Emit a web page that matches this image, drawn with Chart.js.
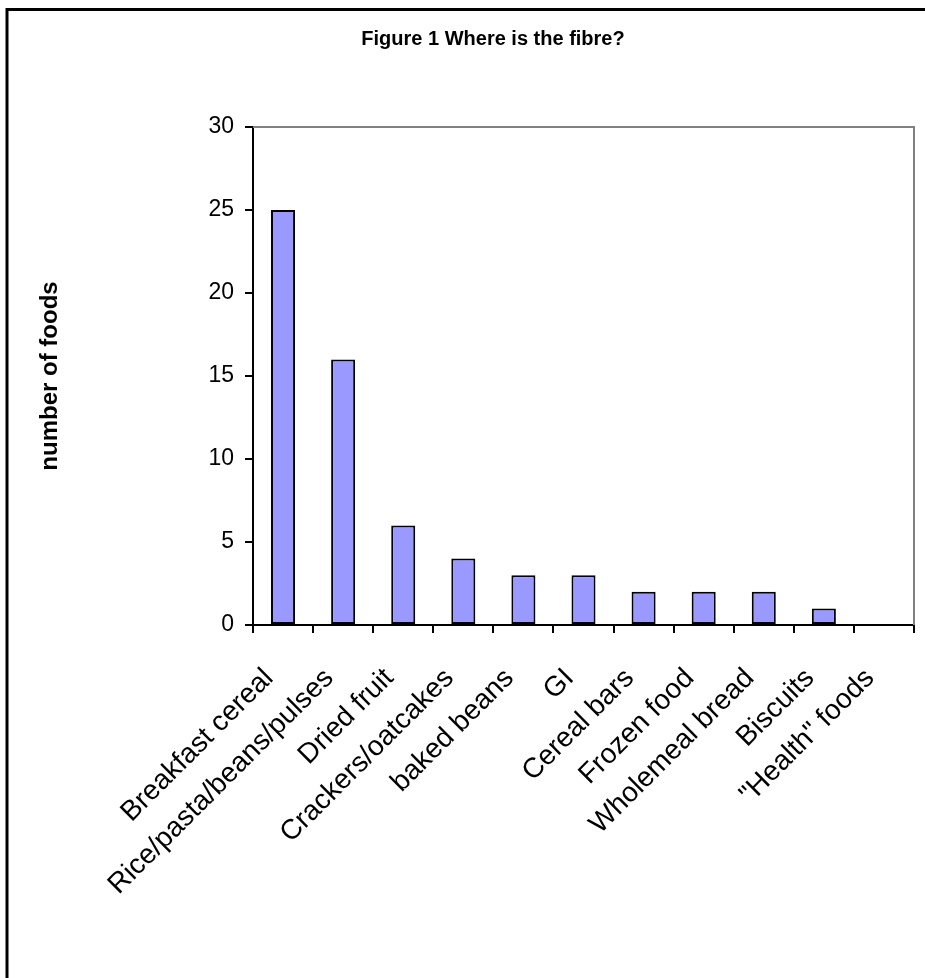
<!DOCTYPE html>
<html>
<head>
<meta charset="utf-8">
<title>Where is the fibre?</title>
<script src="https://cdn.jsdelivr.net/npm/chart.js@4/dist/chart.umd.min.js"></script>
<style>
  html, body { margin: 0; padding: 0; background: #fff; overflow: hidden; }
  #wrap { position: relative; width: 925px; height: 978px; }
</style>
</head>
<body>
<div id="wrap"><canvas id="chart" width="925" height="978"></canvas></div>
<script>
// Food groups named as sources of fibre
const categories = [
  'Breakfast cereal',
  'Rice/pasta/beans/pulses',
  'Dried fruit',
  'Crackers/oatcakes',
  'baked beans',
  'GI',
  'Cereal bars',
  'Frozen food',
  'Wholemeal bread',
  'Biscuits',
  '"Health" foods'
];
// Number of foods in each group
const foodCounts = [25, 16, 6, 4, 3, 3, 2, 2, 2, 1, 0];
// Value axis ticks
const yTicks = [0, 5, 10, 15, 20, 25, 30];

const chartTitle = 'Figure 1 Where is the fibre?';
const yAxisTitle = 'number of foods';
const FONT = "Arial, 'Liberation Sans', sans-serif";

// Outer frame, figure title and the grey top/right edge of the plot area
const decorations = {
  id: 'decorations',
  beforeDraw(chart) {
    const ctx = chart.ctx;
    ctx.save();
    ctx.fillStyle = '#ffffff';
    ctx.fillRect(0, 0, chart.width, chart.height);
    ctx.strokeStyle = '#000000';
    ctx.lineWidth = 3;
    ctx.strokeRect(7, 9.5, 2000, 2000);
    ctx.fillStyle = '#000000';
    ctx.font = 'bold 20px ' + FONT;
    ctx.textAlign = 'center';
    ctx.textBaseline = 'alphabetic';
    ctx.fillText(chartTitle, 493, 45);
    ctx.restore();
  },
  beforeDatasetsDraw(chart) {
    const { ctx, chartArea: a } = chart;
    ctx.save();
    ctx.strokeStyle = '#808080';
    ctx.lineWidth = 2;
    ctx.beginPath();
    ctx.moveTo(a.left, a.top);
    ctx.lineTo(a.right, a.top);
    ctx.lineTo(a.right, a.bottom);
    ctx.stroke();
    ctx.restore();
  }
};

new Chart(document.getElementById('chart'), {
  type: 'bar',
  data: {
    labels: categories,
    datasets: [{
      data: foodCounts,
      backgroundColor: '#9999FF',
      borderColor: '#000000',
      borderWidth: 2,
      borderSkipped: false,
      categoryPercentage: 1.0,
      barPercentage: 0.4
    }]
  },
  options: {
    responsive: false,
    animation: false,
    devicePixelRatio: 1,
    layout: { padding: { top: 127, right: 11, left: 0, bottom: 0 } },
    plugins: {
      legend: { display: false },
      title: { display: false },
      tooltip: { enabled: false }
    },
    scales: {
      x: {
        grid: {
          offset: true,
          drawOnChartArea: false,
          drawTicks: true,
          tickLength: 8,
          color: '#000000',
          lineWidth: 2
        },
        border: { display: true, color: '#000000', width: 2 },
        ticks: {
          autoSkip: false,
          maxRotation: 45,
          minRotation: 45,
          padding: 29,
          labelOffset: -14,
          color: '#000000',
          font: { family: FONT, size: 28 }
        },
        afterFit(scale) {
          scale.height = 353;
          scale.paddingLeft = 0;
          scale.paddingRight = 0;
        }
      },
      y: {
        min: 0,
        max: 30,
        afterBuildTicks(scale) { scale.ticks = yTicks.map(v => ({ value: v })); },
        grid: {
          drawOnChartArea: false,
          drawTicks: true,
          tickLength: 8,
          color: '#000000',
          lineWidth: 2
        },
        border: { display: true, color: '#000000', width: 2 },
        ticks: {
          padding: 11,
          color: '#000000',
          font: { family: FONT, size: 23 }
        },
        title: {
          display: true,
          text: yAxisTitle,
          color: '#000000',
          padding: { top: 36, bottom: 0 },
          font: { family: FONT, size: 24, weight: 'bold' }
        },
        afterFit(scale) { scale.width = 253; }
      }
    }
  },
  plugins: [decorations]
});
</script>
</body>
</html>
